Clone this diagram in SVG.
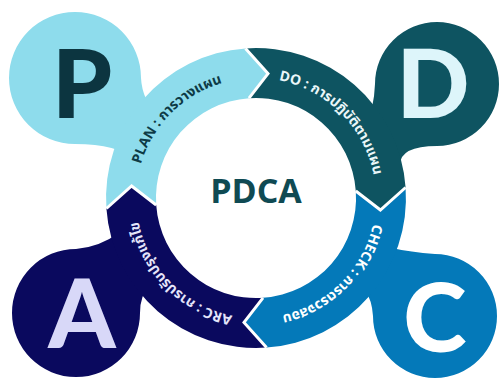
<svg xmlns="http://www.w3.org/2000/svg" width="501" height="379" viewBox="0 0 501 379">
<style>
.lt{font-family:"Noto Sans Thai","Noto Sans","DejaVu Sans",sans-serif;font-size:14px;font-weight:700;}
.big{font-family:"Lato","Open Sans",sans-serif;font-weight:900;font-size:96px;text-anchor:middle;}
.sep{fill:none;stroke:#fff;stroke-width:3;stroke-linejoin:miter;}
</style>
<defs>
<path id="tp-plan" d="M157.7,266.8 A120,120 0 0 1 324.8,99.7"/>
<path id="tp-do" d="M187.2,99.7 A120,120 0 0 1 354.3,266.8"/>
<path id="tp-check" d="M354.3,129.2 A120,120 0 0 1 187.2,296.3"/>
<path id="tp-arc" d="M324.8,296.3 A120,120 0 0 1 157.7,129.2"/>
</defs>
<rect width="501" height="379" fill="#fff"/>
<g id="node-p">
<path d="M141,78 A66,66 0 1 0 75,144 Q118,144 135,160 L160,120 Q142,100 141,78 Z" fill="#8EDCEC"/>
<text class="big" x="82" y="118" fill="#0C3540">P</text>
</g>
<g id="node-d">
<path d="M437,146 A62,62 0 1 0 375,84 Q374,108 366,125 L392,180 L400,165 Q400,146 437,146 Z" fill="#0E5461"/>
<text class="big" x="433" y="118" fill="#DDF5FA">D</text>
</g>
<g id="node-a">
<path d="M140,313 A64,64 0 1 1 76,249 Q100,247 120,232 L150,250 L150,285 Q140,295 140,313 Z" fill="#0A095E"/>
<text class="big" x="82" y="348" fill="#D8D8F8">A</text>
</g>
<g id="node-c">
<path d="M373,316 A62,62 0 1 0 435,254 Q410,252 392,248 L370,230 L365,290 Q372,300 373,316 Z" fill="#0479B9"/>
<text class="big" x="435" y="352" fill="#FFFFFF">C</text>
</g>
<g id="ring">
<g id="seg-plan">
<path d="M106.4,208.5 A150,150 0 0 1 245.5,48.4 L268.0,73.6 L249.0,98.2 A100,100 0 0 0 156.2,205.0 L131.6,186.0 Z" fill="#8EDCEC"/>
<text class="lt" fill="#0D3A45"><textPath href="#tp-plan" startOffset="50%" text-anchor="middle">PLAN : การวางแผน</textPath></text>
</g>
<g id="seg-do">
<path d="M245.5,48.4 A150,150 0 0 1 405.6,187.5 L380.4,210.0 L355.8,191.0 A100,100 0 0 0 249.0,98.2 L268.0,73.6 Z" fill="#0E5461"/>
<text class="lt" fill="#EAF7F9"><textPath href="#tp-do" startOffset="50%" text-anchor="middle">DO : การปฏิบัติตามแผน</textPath></text>
</g>
<g id="seg-check">
<path d="M405.6,187.5 A150,150 0 0 1 266.5,347.6 L244.0,322.4 L263.0,297.8 A100,100 0 0 0 355.8,191.0 L380.4,210.0 Z" fill="#0479B9"/>
<text class="lt" fill="#FFFFFF"><textPath href="#tp-check" startOffset="50%" text-anchor="middle">CHECK : การตรวจสอบ</textPath></text>
</g>
<g id="seg-arc">
<path d="M266.5,347.6 A150,150 0 0 1 106.4,208.5 L131.6,186.0 L156.2,205.0 A100,100 0 0 0 263.0,297.8 L244.0,322.4 Z" fill="#0A095E"/>
<text class="lt" fill="#E4E4FA"><textPath href="#tp-arc" startOffset="50%" text-anchor="middle">ARC : การปรับปรุงแก้ไข</textPath></text>
</g>
</g>
<g id="connectors">
<polyline class="sep" points="245.5,48.4 268.0,73.6 249.0,98.2"/>
<polyline class="sep" points="405.6,187.5 380.4,210.0 355.8,191.0"/>
<polyline class="sep" points="266.5,347.6 244.0,322.4 263.0,297.8"/>
<polyline class="sep" points="106.4,208.5 131.6,186.0 156.2,205.0"/>
</g>
<g id="center">
<text x="256" y="203" font-family="'Open Sans','Noto Sans',sans-serif" font-weight="700" font-size="34" text-anchor="middle" fill="#0F4A53">PDCA</text>
</g>
</svg>
